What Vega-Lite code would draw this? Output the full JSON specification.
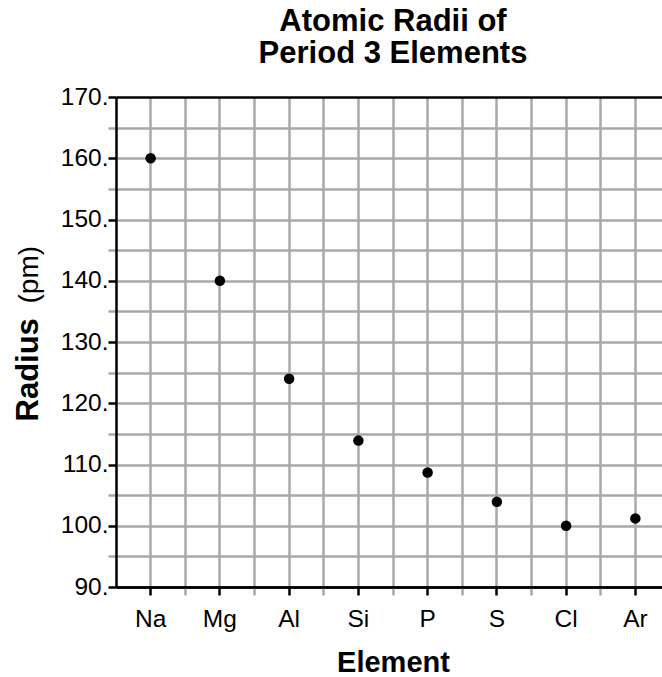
{
  "$schema": "https://vega.github.io/schema/vega-lite/v6.json",
  "autosize": {"type": "none"},
  "padding": {"left": 116, "top": 97, "right": 0, "bottom": 100},
  "width": 554,
  "height": 490,
  "background": "white",
  "title": {
    "text": ["Atomic Radii of", "Period 3 Elements"],
    "font": "Liberation Sans",
    "fontSize": 31,
    "fontWeight": "bold",
    "color": "black",
    "anchor": "middle",
    "lineHeight": 32,
    "offset": 14
  },
  "config": {
    "view": {"stroke": null},
    "axis": {
      "labelFont": "Liberation Sans",
      "titleFont": "Liberation Sans",
      "labelColor": "black",
      "titleColor": "black",
      "labelFontSize": 24.5,
      "titleFontSize": 29
    }
  },
  "data": {
    "values": [
      {"element": "Na", "radius": 160},
      {"element": "Mg", "radius": 140},
      {"element": "Al", "radius": 124},
      {"element": "Si", "radius": 113.9},
      {"element": "P", "radius": 108.7},
      {"element": "S", "radius": 103.9},
      {"element": "Cl", "radius": 100},
      {"element": "Ar", "radius": 101.2}
    ]
  },
  "layer": [
    {
      "mark": {"type": "point", "filled": true, "color": "black", "opacity": 0},
      "encoding": {
        "x": {
          "field": "element",
          "type": "nominal",
          "sort": null,
          "scale": {"type": "band", "paddingInner": 0, "paddingOuter": 0},
          "axis": {
            "orient": "bottom",
            "values": ["Mg", "Al", "Si", "P", "S", "Cl", "Ar"],
            "bandPosition": 0,
            "labels": false,
            "domain": false,
            "title": null,
            "ticks": true,
            "tickColor": "#a8a8a8",
            "tickSize": 8,
            "tickWidth": 2.5,
            "grid": true,
            "gridColor": "#a8a8a8",
            "gridWidth": 2.5,
            "gridOpacity": 1
          }
        },
        "y": {
          "field": "radius",
          "type": "quantitative",
          "scale": {"domain": [90, 170], "nice": false, "zero": false},
          "axis": {
            "orient": "left",
            "values": [95, 105, 115, 125, 135, 145, 155, 165],
            "labels": false,
            "domain": false,
            "ticks": true,
            "tickColor": "#a8a8a8",
            "tickSize": 8,
            "tickWidth": 2.5,
            "grid": true,
            "gridColor": "#a8a8a8",
            "gridWidth": 2.5,
            "gridOpacity": 1,
            "title": "(pm)",
            "titleFontWeight": "normal",
            "titleFontSize": 28,
            "titleAngle": -90,
            "titleAlign": "left",
            "titleBaseline": "alphabetic",
            "titleX": -79,
            "titleY": 206
          }
        }
      }
    },
    {
      "mark": {"type": "point", "filled": true, "color": "black", "opacity": 1, "size": 110},
      "encoding": {
        "x": {
          "field": "element",
          "type": "nominal",
          "sort": null,
          "axis": {
            "orient": "bottom",
            "bandPosition": 0.5,
            "labelAngle": 0,
            "labelPadding": 12,
            "domain": true,
            "domainColor": "black",
            "domainWidth": 2.5,
            "ticks": true,
            "tickColor": "black",
            "tickSize": 8,
            "tickWidth": 2.5,
            "grid": true,
            "gridColor": "#a8a8a8",
            "gridWidth": 2.5,
            "gridOpacity": 1,
            "title": "Element",
            "titleFontWeight": "bold",
            "titlePadding": 18
          }
        },
        "y": {
          "field": "radius",
          "type": "quantitative",
          "axis": {
            "orient": "left",
            "values": [90, 100, 110, 120, 130, 140, 150, 160, 170],
            "labelExpr": "datum.value + '.'",
            "labelPadding": 0,
            "domain": true,
            "domainColor": "black",
            "domainWidth": 2.5,
            "ticks": true,
            "tickColor": "black",
            "tickSize": 8,
            "tickWidth": 2.5,
            "grid": true,
            "gridColor": {"condition": {"test": "datum.value === 170 || datum.value === 90", "value": "black"}, "value": "#a8a8a8"},
            "gridWidth": 2.5,
            "gridOpacity": 1,
            "title": "Radius",
            "titleFontWeight": "bold",
            "titleFontSize": 31,
            "titleAngle": -90,
            "titleAlign": "left",
            "titleBaseline": "alphabetic",
            "titleX": -79,
            "titleY": 324
          }
        }
      }
    }
  ],
  "resolve": {"axis": {"x": "independent", "y": "independent"}}
}
